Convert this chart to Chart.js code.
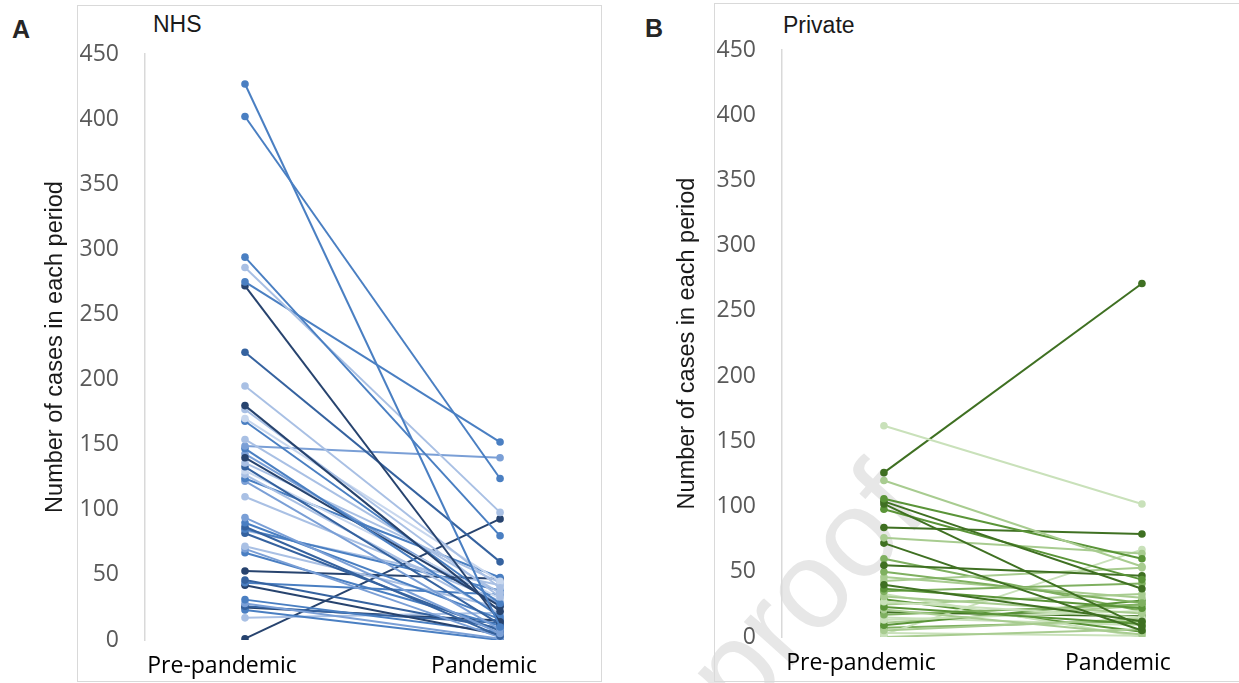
<!DOCTYPE html>
<html>
<head>
<meta charset="utf-8">
<script src="https://cdn.jsdelivr.net/npm/chart.js@4.4.0/dist/chart.umd.min.js"></script>
<style>
body { margin: 0; background: #fff; width: 1239px; height: 683px; overflow: hidden; position: relative; font-family: "Liberation Sans", Arial, sans-serif; }
.box { position: absolute; border: 1px solid #d9d9d9; }
.lab { position: absolute; font-size: 25px; font-weight: bold; color: #262626; line-height: 1; }
.ttl { position: absolute; font-size: 23px; color: #1a1a1a; line-height: 1; }
canvas { position: absolute; top: 0; }
#mark { position: absolute; left: 755px; top: 612px; font-size: 124px; line-height: 1; color: #e7e7e7; transform: rotate(-48deg); transform-origin: 0 100%; white-space: nowrap; }
</style>
</head>
<body>
<div id="mark">proof</div>
<div class="box" style="left:77px;top:5px;width:523px;height:675px"></div>
<div class="box" style="left:714px;top:3px;width:540px;height:677px"></div>
<div class="lab" style="left:12px;top:17px">A</div>
<div class="ttl" style="left:153px;top:13px">NHS</div>
<div class="lab" style="left:645px;top:16px">B</div>
<div class="ttl" style="left:783px;top:14px">Private</div>
<canvas id="nhs" width="610" height="683" style="left:0"></canvas>
<canvas id="private" width="619" height="683" style="left:620px"></canvas>
<script>
// categories
const periods = ['Pre-pandemic', 'Pandemic'];
const yTitle = 'Number of cases in each period';

// NHS sites, cases before and during the pandemic
const nhsPre = [427, 402, 294, 286, 275, 272, 221, 195, 180, 177, 170, 168, 154, 149, 147, 140, 136, 133, 130, 127, 124, 122, 110, 94, 90, 87, 85, 82, 72, 70, 67, 53, 46, 44, 42, 31, 28, 26, 23, 17, 1, 143, 84, 25];
const nhsPandemic = [10, 124, 80, 98, 152, 14, 60, 40, 22, 33, 45, 28, 36, 140, 18, 26, 44, 12, 32, 20, 48, 8, 30, 5, 16, 3, 38, 7, 25, 2, 11, 47, 9, 35, 4, 6, 1, 13, 0, 21, 93, 27, 42, 15];

// Private sites
const privatePre = [162, 126, 120, 106, 104, 102, 98, 84, 76, 72, 55, 50, 46, 40, 37, 35, 31, 27, 23, 21, 17, 13, 9, 5, 2, 0, 33, 29, 25, 19, 15, 11, 7, 43, 60, 3];
const privatePandemic = [102, 271, 54, 60, 37, 8, 44, 79, 64, 5, 47, 26, 30, 12, 22, 41, 18, 15, 10, 2, 25, 20, 28, 14, 67, 6, 0, 4, 33, 16, 9, 24, 12, 53, 20, 1];

// colour of each line
const bD = '#27436e', bMD = '#35629f', bM = '#4a7fc2', bML = '#7a9fd6', bL = '#a9c0e4', bVL = '#c8d7ee';
const nhsColours = [bM, bM, bM, bL, bM, bD, bMD, bL, bD, bL, bVL, bM, bL, bML, bM, bD, bL, bMD, bVL, bL, bM, bML, bL, bML, bM, bMD, bM, bMD, bL, bML, bM, bD, bMD, bM, bD, bM, bML, bMD, bM, bL, bD, bML, bL, bD];
const gD = '#3f7022', gM = '#5a9438', gML = '#7fb060', gL = '#a8cc90', gVL = '#c9e1ba';
const privateColours = [gVL, gD, gL, gM, gD, gD, gM, gD, gL, gD, gD, gML, gL, gD, gM, gML, gL, gVL, gM, gL, gML, gVL, gM, gL, gVL, gL, gVL, gM, gL, gD, gVL, gL, gML, gL, gML, gVL];

function panel(id, pre, pan, colours, g) {
  const datasets = pre.map((v, i) => ({
    data: [{ x: 0, y: v }, { x: 1, y: pan[i] }],
    borderColor: colours[i],
    backgroundColor: colours[i],
    borderWidth: 2,
    pointRadius: 3.8,
    pointBorderWidth: 0
  }));

  return new Chart(document.getElementById(id), {
    type: 'line',
    data: { datasets: datasets },
    options: {
      responsive: false,
      animation: false,
      layout: { padding: { top: g.top, right: g.right, left: 0, bottom: 0 } },
      plugins: { legend: { display: false }, tooltip: { enabled: false } },
      scales: {
        x: {
          type: 'linear',
          min: g.xmin,
          max: g.xmax,
          grid: { display: false, drawTicks: false },
          border: { display: false },
          afterBuildTicks: s => { s.ticks = g.labelAt.map(v => ({ value: v })); },
          afterFit: s => { s.height = g.xh; },
          ticks: {
            autoSkip: false, maxRotation: 0, padding: g.labelPad, color: '#000',
            font: { family: 'Open Sans', size: 23 },
            callback: (v, i) => periods[i]
          }
        },
        y: {
          min: 0,
          max: 450,
          grid: { display: false, drawTicks: false },
          border: { display: true, color: '#d9d9d9', width: 1.5 },
          ticks: { stepSize: 50, padding: 26, color: '#595959', font: { family: 'Open Sans', size: 23 } },
          title: {
            display: true, text: yTitle, color: '#1a1a1a',
            font: { family: 'Liberation Sans', size: 23.5 },
            padding: { top: g.titlePad, bottom: 0 }
          },
          afterFit: s => { s.width = g.yw; }
        }
      }
    }
  });
}

panel('nhs', nhsPre, nhsPandemic, nhsColours,
  { top: 54, right: 50, xh: 43, yw: 145, xmin: -0.392, xmax: 1.235, labelAt: [-0.09, 0.937], titlePad: 41, labelPad: 13 });
panel('private', privatePre, privatePandemic, privateColours,
  { top: 50, right: 39, xh: 46, yw: 162, xmin: -0.395, xmax: 1.225, labelAt: [-0.089, 0.907], titlePad: 53, labelPad: 13 });
</script>
</body>
</html>
